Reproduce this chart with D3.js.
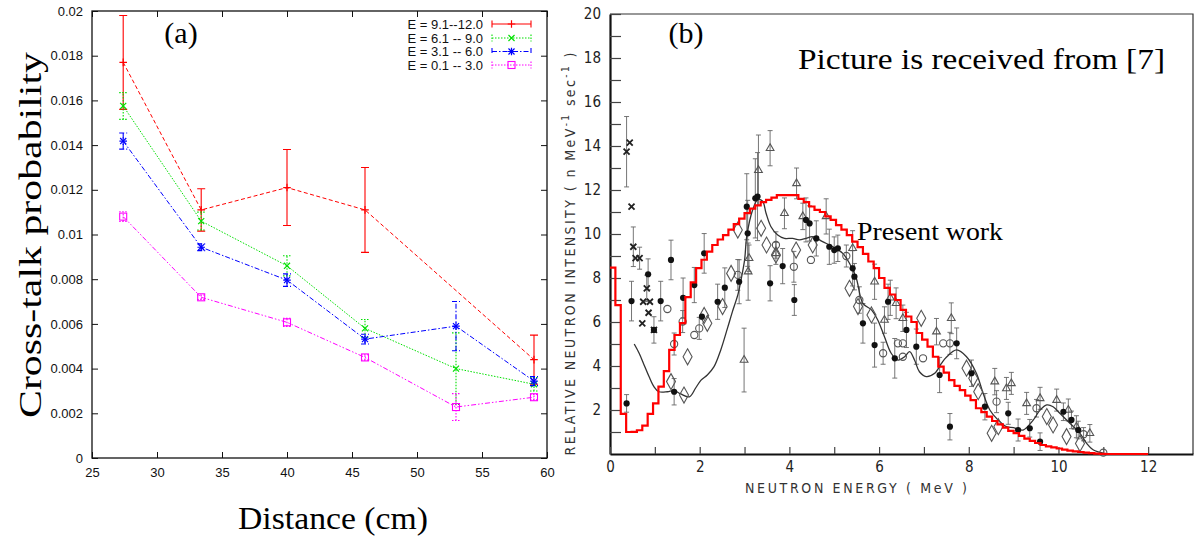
<!DOCTYPE html>
<html>
<head>
<meta charset="utf-8">
<script src="https://cdn.jsdelivr.net/npm/d3@7"></script>
<style>
  body { margin: 0; background: #fff; }
</style>
</head>
<body>
<div id="chart"></div>
<script>
// ---------- panel (a) data ----------
const distances = [27.4, 33.4, 40, 46, 53, 59];
const probHigh   = [0.0177, 0.0111, 0.0121, 0.0111, null, 0.0044];
const errHigh    = [0.0021, 0.00095, 0.0017, 0.0019, null, 0.0011];
const probMid    = [0.01575, 0.0106, 0.0086, 0.0058, 0.0040, 0.0033];
const errMid     = [0.0006, 0.0004, 0.00045, 0.0004, 0.0016, 0.0003];
const probLow    = [0.01418, 0.00943, 0.00796, 0.00532, 0.0059, 0.00344];
const errLow     = [0.00036, 0.00015, 0.00028, 0.00022, 0.0011, 0.0002];
const probLowest = [0.0108, 0.00719, 0.00607, 0.0045, 0.00228, 0.00272];
const errLowest  = [0.00022, 0.0001, 0.00018, 0.00012, 0.0006, 0.00012];
const legendLabels = ["E = 9.1--12.0", "E = 6.1 -- 9.0", "E = 3.1 -- 6.0", "E = 0.1 -- 3.0"];
const yTicksA = [0, 0.002, 0.004, 0.006, 0.008, 0.01, 0.012, 0.014, 0.016, 0.018, 0.02];
const xTicksA = [25, 30, 35, 40, 45, 50, 55, 60];

// ---------- panel (b) data ----------
// red histogram, 0.12 MeV bins from 0 to 12 MeV
const binWidth = 0.12;
const histCounts = [
  8.47, 6.77, 1.82, 1.0, 1.01, 1.08, 1.29, 1.82, 2.3, 3.06,
  3.77, 4.73, 5.41, 5.95, 7.13, 7.8, 8.45, 8.83, 9.2, 9.5,
  9.75, 9.95, 10.2, 10.45, 10.7, 10.95, 11.15, 11.3, 11.45, 11.55,
  11.65, 11.77, 11.77, 11.77, 11.77, 11.6, 11.45, 11.25, 11.1, 11.0,
  10.8, 10.64, 10.4, 10.2, 9.95, 9.65, 9.4, 9.1, 8.75, 8.45,
  8.0, 7.55, 7.25, 7.0, 6.55, 6.25, 6.0, 5.5, 5.2, 4.88,
  4.42, 3.97, 3.7, 3.36, 3.1, 2.9, 2.65, 2.45, 2.08, 1.9,
  1.7, 1.5, 1.35, 1.2, 1.05, 0.95, 0.82, 0.7, 0.6, 0.5,
  0.41, 0.35, 0.3, 0.25, 0.2, 0.15, 0.12, 0.09, 0.06, 0.04,
  0.02, 0.01, 0, 0, 0, 0, 0, 0, 0, 0
];

// solid curve [MeV, intensity]
const curvePts = [
  [0.54, 5.0], [0.65, 4.58], [0.76, 4.05], [0.87, 3.52], [0.98, 3.06], [1.09, 2.83],
  [1.28, 2.83], [1.43, 2.88], [1.58, 2.73], [1.77, 2.6], [1.91, 3.0], [2.03, 3.36],
  [2.17, 3.59], [2.32, 3.97], [2.47, 4.73], [2.62, 5.72], [2.73, 6.47], [2.85, 7.23],
  [2.92, 7.9], [3.0, 8.8], [3.05, 9.9], [3.18, 11.09], [3.29, 11.55], [3.4, 11.5],
  [3.48, 10.94], [3.59, 10.33], [3.74, 9.95], [3.89, 9.8], [4.07, 9.8], [4.22, 9.73],
  [4.37, 9.8], [4.52, 9.88], [4.74, 9.65], [4.97, 9.42], [5.19, 9.12], [5.34, 8.67],
  [5.49, 8.0], [5.64, 6.85], [5.83, 6.55], [5.97, 6.09], [6.12, 5.33], [6.27, 4.58],
  [6.42, 4.27], [6.57, 4.42], [6.68, 4.65], [6.79, 4.27], [6.9, 3.74], [7.05, 3.52],
  [7.24, 3.67], [7.39, 4.12], [7.5, 4.4], [7.73, 4.73], [7.95, 4.42], [8.17, 3.67],
  [8.32, 2.76], [8.47, 2.0], [8.65, 1.55], [8.84, 1.24], [9.0, 1.2], [9.21, 1.09],
  [9.44, 1.55], [9.59, 2.0], [9.74, 2.23], [9.88, 2.15], [10.03, 1.85], [10.26, 1.39],
  [10.48, 0.94], [10.63, 0.48], [10.78, 0.18], [11.0, 0.04]
];

// measured points [MeV, intensity, half error]
const filledPts = [
  [0.37, 2.3, 0.4], [0.48, 6.95, 0.9], [0.85, 8.17, 0.7], [0.98, 5.64, 0.6], [1.13, 6.95, 0.9],
  [1.36, 8.82, 0.9], [1.43, 2.83, 0.6], [1.63, 7.1, 0.9], [1.88, 7.68, 0.8], [2.05, 6.24, 0],
  [2.1, 9.12, 0.9], [2.4, 6.92, 0.8], [2.56, 7.56, 0.9], [2.88, 7.83, 1.0], [3.05, 11.24, 1.5],
  [3.07, 10.03, 1.5], [3.24, 11.62, 1.8], [3.29, 11.7, 2.0], [3.57, 7.76, 0.8], [3.85, 8.54, 0.8],
  [4.11, 7.0, 0.7], [4.37, 10.64, 1.0], [4.45, 10.48, 0.8], [4.6, 9.8, 0.8], [4.89, 9.42, 0.8],
  [5.0, 9.27, 0.6], [5.08, 9.35, 0.6], [5.41, 8.44, 0.8], [5.45, 8.06, 0.6], [5.64, 5.94, 0.9],
  [5.9, 4.95, 1.0], [6.2, 6.92, 0.8], [6.35, 4.35, 0.9], [6.61, 5.64, 0.8], [6.83, 4.88, 0.8],
  [7.35, 3.59, 0.8], [7.58, 1.24, 0.6], [7.73, 5.03, 0.7], [8.06, 3.67, 0.6], [8.36, 2.15, 0.6],
  [8.88, 1.85, 0.5], [9.1, 1.09, 0.5], [9.36, 1.17, 0.4], [9.59, 0.56, 0.4], [10.11, 1.92, 0.4],
  [10.29, 1.55, 0.4], [10.44, 1.09, 0.4]
];
const crossPts = [
  [0.37, 13.74, 1.6], [0.44, 14.15, 0], [0.48, 11.24, 0], [0.52, 9.42, 0.9], [0.57, 8.9, 0],
  [0.66, 8.9, 0.5], [0.74, 6.92, 0], [0.82, 7.53, 0.6], [0.86, 6.42, 0], [0.89, 6.92, 0],
  [0.72, 5.94, 0], [0.98, 5.64, 0]
];
const openCirclePts = [
  [1.28, 6.59, 0], [1.43, 5.0, 0.5], [1.62, 6.02, 0.5], [1.88, 5.41, 0], [1.99, 5.71, 0.5],
  [2.85, 8.14, 0.7], [3.7, 9.5, 0.6], [4.1, 8.51, 0.7], [4.48, 8.82, 0], [5.27, 9.0, 0.5],
  [5.56, 7.0, 0.6], [6.09, 4.58, 0.5], [6.42, 5.03, 0], [6.53, 5.03, 0], [6.53, 4.42, 0],
  [6.98, 4.35, 0], [7.43, 5.03, 0], [7.58, 5.03, 0.5], [8.62, 2.38, 0.5], [9.51, 2.08, 0.4],
  [10.56, 0.9, 0.3], [11.0, 0.06, 0]
];
const trianglePts = [
  [2.99, 4.27, 1.45], [3.08, 8.29, 1.3], [3.1, 8.9, 0.6], [3.31, 12.9, 1.6], [3.57, 13.9, 0.8],
  [3.7, 9.12, 0.5], [3.89, 10.94, 0.7], [4.16, 12.3, 0.7], [4.3, 10.8, 0.6], [4.82, 10.8, 0.8],
  [5.41, 9.35, 0.8], [5.9, 7.83, 0.8], [6.12, 6.09, 0.6], [6.25, 7.1, 0.8], [6.38, 6.85, 0.7],
  [6.53, 6.17, 0.6], [7.28, 5.56, 0.6], [7.61, 6.17, 0.7], [8.58, 3.29, 0.6], [8.84, 2.98, 0.5],
  [8.95, 3.21, 0.5], [9.29, 2.3, 0.5], [9.59, 2.53, 0.5], [9.96, 2.45, 0.5], [10.22, 2.0, 0.5],
  [10.4, 1.24, 0.5], [10.7, 0.94, 0.4]
];
const diamondPts = [
  [1.36, 3.29], [1.65, 2.68], [1.73, 4.42], [2.1, 6.3], [2.17, 5.94], [2.51, 6.7], [2.7, 8.21],
  [2.85, 10.18], [3.37, 10.26], [3.49, 9.5], [3.7, 9.05], [4.15, 9.27], [4.52, 9.5], [5.34, 7.53],
  [5.53, 6.7], [5.83, 6.32], [6.94, 6.17], [7.95, 3.9], [8.1, 3.44], [8.21, 2.83], [8.51, 0.94],
  [8.66, 1.24], [9.74, 1.7], [9.88, 1.32], [10.18, 0.79], [10.48, 0.48]
];

// ---------- svg ----------
const W = 1197, H = 541;
const svg = d3.select("#chart").append("svg")
  .attr("width", W)
  .attr("height", H)
  .style("background", "#fff");

// ======================= panel (a) =======================
const ax = d3.scaleLinear().domain([25, 60]).range([92, 547]);
const ay = d3.scaleLinear().domain([0, 0.02]).range([458, 11]);
const sansA = "'Liberation Sans', Arial, sans-serif";

const series = [
  { values: probHigh,   errors: errHigh,   color: "#ff0000", dash: "4,2.5",     errDash: null,        legendDash: null,        marker: "plus" },
  { values: probMid,    errors: errMid,    color: "#00e000", dash: "1.5,1.5",   errDash: "1.5,1.5",   legendDash: "1.5,1.5",   marker: "cross" },
  { values: probLow,    errors: errLow,    color: "#0000ff", dash: "5,2,1.5,2", errDash: "5,2,1.5,2", legendDash: "5,2,1.5,2", marker: "star" },
  { values: probLowest, errors: errLowest, color: "#ff00ff", dash: "5,2,1.5,2,1.5,2", errDash: "1.5,1.5", legendDash: "1.5,1.5", marker: "square" }
];

function drawMarker(g, type, x, y, color) {
  const s = 3.8;
  if (type === "plus" || type === "star") {
    g.append("path").attr("d", `M${x - s},${y}H${x + s}M${x},${y - s}V${y + s}`)
      .attr("stroke", color).attr("stroke-width", 1.2).attr("fill", "none");
  }
  if (type === "cross" || type === "star") {
    const c = s * 0.8;
    g.append("path").attr("d", `M${x - c},${y - c}L${x + c},${y + c}M${x - c},${y + c}L${x + c},${y - c}`)
      .attr("stroke", color).attr("stroke-width", 1.2).attr("fill", "none");
  }
  if (type === "square") {
    g.append("rect").attr("x", x - 3.5).attr("y", y - 3.5).attr("width", 7).attr("height", 7)
      .attr("stroke", color).attr("stroke-width", 1.1).attr("fill", "none");
  }
}

const gA = svg.append("g");

// axes with inward ticks on all four sides
gA.append("g")
  .attr("transform", `translate(${ax(25)},0)`)
  .call(d3.axisLeft(ay).tickValues(yTicksA).tickFormat(d3.format("~g"))
    .tickSizeInner(-6).tickSizeOuter(0).tickPadding(9))
  .call(g => g.select(".domain").remove())
  .call(g => g.selectAll("text").style("font-family", sansA).style("font-size", "13px").attr("fill", "#111"));

gA.append("g")
  .attr("transform", `translate(${ax(60)},0)`)
  .call(d3.axisRight(ay).tickValues(yTicksA).tickFormat("").tickSizeInner(-6).tickSizeOuter(0))
  .call(g => g.select(".domain").remove());

gA.append("g")
  .attr("transform", `translate(0,${ay(0)})`)
  .call(d3.axisBottom(ax).tickValues(xTicksA).tickFormat(d3.format("d"))
    .tickSizeInner(-6).tickSizeOuter(0).tickPadding(10))
  .call(g => g.select(".domain").remove())
  .call(g => g.selectAll("text").style("font-family", sansA).style("font-size", "13px").attr("fill", "#111"));

gA.append("g")
  .attr("transform", `translate(0,${ay(0.02)})`)
  .call(d3.axisTop(ax).tickValues(xTicksA).tickFormat("").tickSizeInner(-6).tickSizeOuter(0))
  .call(g => g.select(".domain").remove());

gA.selectAll(".tick line").attr("stroke", "#111");

gA.append("rect")
  .attr("x", ax(25)).attr("y", ay(0.02))
  .attr("width", ax(60) - ax(25)).attr("height", ay(0) - ay(0.02))
  .attr("fill", "none").attr("stroke", "#111").attr("stroke-width", 1.3);

// series lines, error bars, markers
const lineA = d3.line()
  .defined(d => d[1] != null)
  .x(d => ax(d[0]))
  .y(d => ay(d[1]));

series.forEach(s => {
  const pts = distances.map((d, i) => [d, s.values[i], s.errors[i]]).filter(d => d[1] != null);

  gA.append("path")
    .datum(pts)
    .attr("d", lineA)
    .attr("fill", "none")
    .attr("stroke", s.color)
    .attr("stroke-width", 1)
    .attr("stroke-dasharray", s.dash);

  const eg = gA.append("g")
    .attr("stroke", s.color)
    .attr("stroke-width", 1.1)
    .attr("fill", "none")
    .attr("stroke-dasharray", s.errDash);

  pts.forEach(p => {
    const x = ax(p[0]), y0 = ay(p[1] - p[2]), y1 = ay(p[1] + p[2]);
    eg.append("path").attr("d", `M${x},${y0}V${y1}M${x - 4},${y0}H${x + 4}M${x - 4},${y1}H${x + 4}`);
  });

  pts.forEach(p => drawMarker(gA, s.marker, ax(p[0]), ay(p[1]), s.color));
});

// legend
const legendRows = [24, 38, 51.5, 65];
series.forEach((s, i) => {
  const y = legendRows[i];
  gA.append("text")
    .attr("x", 483).attr("y", y).attr("dy", "0.35em")
    .attr("text-anchor", "end")
    .style("font-family", sansA).style("font-size", "13px").attr("fill", "#111")
    .text(legendLabels[i]);
  gA.append("path")
    .attr("d", `M492,${y}H531M492,${y - 3.5}V${y + 3.5}M531,${y - 3.5}V${y + 3.5}`)
    .attr("stroke", s.color).attr("stroke-width", 1.1).attr("fill", "none")
    .attr("stroke-dasharray", s.legendDash);
  drawMarker(gA, s.marker, 511.5, y, s.color);
});

// titles (a)
const serif = "'Liberation Serif', 'Times New Roman', serif";
gA.append("text")
  .attr("x", 181).attr("y", 43)
  .attr("text-anchor", "middle")
  .style("font-family", serif).style("font-size", "30px")
  .text("(a)");

gA.append("text")
  .attr("x", 333).attr("y", 529)
  .attr("text-anchor", "middle")
  .attr("textLength", 190).attr("lengthAdjust", "spacingAndGlyphs")
  .style("font-family", serif).style("font-size", "31px")
  .text("Distance (cm)");

gA.append("text")
  .attr("transform", "translate(41,235) rotate(-90)")
  .attr("text-anchor", "middle")
  .attr("textLength", 366).attr("lengthAdjust", "spacingAndGlyphs")
  .style("font-family", serif).style("font-size", "31px")
  .text("Cross-talk probability");

// ======================= panel (b) =======================
const bx = d3.scaleLinear().domain([0, 13]).range([610, 1193]);
const by = d3.scaleLinear().domain([0, 20]).range([454, 14]);
const sansB = "'DejaVu Sans Condensed', 'Liberation Sans Narrow', 'DejaVu Sans', sans-serif";
const gB = svg.append("g");

// frame (scan)
gB.append("path")
  .attr("d", `M${bx(0)},${by(20)}H${bx(13)}V${by(0)}`)
  .attr("fill", "none").attr("stroke", "#333").attr("stroke-width", 1.2);

gB.append("g")
  .attr("transform", `translate(${bx(0)},0)`)
  .call(d3.axisLeft(by).tickValues(d3.range(1, 21)).tickFormat(d => d % 2 === 0 ? d : "")
    .tickSizeInner(-11).tickSizeOuter(0).tickPadding(9))
  .call(g => g.select(".domain").attr("stroke-width", 2.2).attr("stroke", "#111"))
  .call(g => g.selectAll(".tick line").attr("stroke", "#444").attr("stroke-width", 1.2))
  .call(g => g.selectAll("text").style("font-family", sansB).style("font-size", "15px")
    .style("font-stretch", "condensed").attr("fill", "#222"));

gB.append("g")
  .attr("transform", `translate(0,${by(0)})`)
  .call(d3.axisBottom(bx).tickValues(d3.range(0, 13)).tickFormat(d => d % 2 === 0 ? d : "")
    .tickSizeInner(-7).tickSizeOuter(0).tickPadding(7))
  .call(g => g.select(".domain").attr("stroke-width", 2.2).attr("stroke", "#111"))
  .call(g => g.selectAll(".tick line").attr("stroke", "#444").attr("stroke-width", 1.2))
  .call(g => g.selectAll("text").style("font-family", sansB).style("font-size", "15px")
    .style("font-stretch", "condensed").attr("fill", "#222"));

// error bars
const errG = gB.append("g").attr("stroke", "#666").attr("stroke-width", 0.9).attr("fill", "none");
[filledPts, crossPts, openCirclePts, trianglePts].forEach(arr => {
  arr.filter(d => d[2] > 0).forEach(d => {
    const x = bx(d[0]), y0 = by(d[1] - d[2]), y1 = by(d[1] + d[2]);
    errG.append("path").attr("d", `M${x},${y0}V${y1}M${x - 2.5},${y0}H${x + 2.5}M${x - 2.5},${y1}H${x + 2.5}`);
  });
});

// solid curve
gB.append("path")
  .datum(curvePts)
  .attr("d", d3.line().x(d => bx(d[0])).y(d => by(d[1])).curve(d3.curveCatmullRom))
  .attr("fill", "none")
  .attr("stroke", "#333")
  .attr("stroke-width", 1.3);

// markers
gB.selectAll("path.diamond")
  .data(diamondPts)
  .join("path")
    .attr("class", "diamond")
    .attr("d", d => {
      const x = bx(d[0]), y = by(d[1]);
      return `M${x},${y - 8}L${x + 4.5},${y}L${x},${y + 8}L${x - 4.5},${y}Z`;
    })
    .attr("fill", "none").attr("stroke", "#555").attr("stroke-width", 1.1);

gB.selectAll("circle.open")
  .data(openCirclePts)
  .join("circle")
    .attr("class", "open")
    .attr("cx", d => bx(d[0])).attr("cy", d => by(d[1])).attr("r", 3.6)
    .attr("fill", "none").attr("stroke", "#555").attr("stroke-width", 1.1);

gB.selectAll("path.tri")
  .data(trianglePts)
  .join("path")
    .attr("class", "tri")
    .attr("transform", d => `translate(${bx(d[0])},${by(d[1])})`)
    .attr("d", d3.symbol(d3.symbolTriangle, 26))
    .attr("fill", "none").attr("stroke", "#555").attr("stroke-width", 1.1);

gB.selectAll("path.xmark")
  .data(crossPts)
  .join("path")
    .attr("class", "xmark")
    .attr("d", d => {
      const x = bx(d[0]), y = by(d[1]);
      return `M${x - 3},${y - 3}L${x + 3},${y + 3}M${x - 3},${y + 3}L${x + 3},${y - 3}`;
    })
    .attr("fill", "none").attr("stroke", "#222").attr("stroke-width", 1.8);

gB.selectAll("circle.filled")
  .data(filledPts)
  .join("circle")
    .attr("class", "filled")
    .attr("cx", d => bx(d[0])).attr("cy", d => by(d[1])).attr("r", 3.1)
    .attr("fill", "#111");

// red histogram on top
const edges = histCounts.map((v, i) => [i * binWidth, v]);
edges.push([histCounts.length * binWidth, histCounts[histCounts.length - 1]]);
gB.append("path")
  .datum(edges)
  .attr("d", d3.line().x(d => bx(d[0])).y(d => by(d[1])).curve(d3.curveStepAfter))
  .attr("fill", "none")
  .attr("stroke", "#ff0000")
  .attr("stroke-width", 2.2);

// axis titles (b)
const yTitle = gB.append("text")
  .attr("transform", "translate(575,254) rotate(-90)")
  .attr("text-anchor", "middle")
  .attr("textLength", 403).attr("lengthAdjust", "spacing")
  .style("font-family", sansB).style("font-size", "14px").style("font-stretch", "condensed")
  .attr("fill", "#333");
yTitle.append("tspan").text("RELATIVE NEUTRON INTENSITY ( n  MeV");
yTitle.append("tspan").attr("dy", -6).style("font-size", "10px").text("-1");
yTitle.append("tspan").attr("dy", 6).text(" sec");
yTitle.append("tspan").attr("dy", -6).style("font-size", "10px").text("-1");
yTitle.append("tspan").attr("dy", 6).text(" )");

gB.append("text")
  .attr("x", 856).attr("y", 493)
  .attr("text-anchor", "middle")
  .attr("textLength", 222).attr("lengthAdjust", "spacing")
  .style("font-family", sansB).style("font-size", "14px").style("font-stretch", "condensed")
  .attr("fill", "#333")
  .text("NEUTRON ENERGY ( MeV )");

// annotations (b)
gB.append("text")
  .attr("x", 686).attr("y", 43)
  .attr("text-anchor", "middle")
  .style("font-family", serif).style("font-size", "30px")
  .text("(b)");

gB.append("text")
  .attr("x", 798).attr("y", 69)
  .attr("textLength", 367).attr("lengthAdjust", "spacingAndGlyphs")
  .style("font-family", serif).style("font-size", "29px")
  .text("Picture is received from [7]");

gB.append("text")
  .attr("x", 857).attr("y", 240)
  .attr("textLength", 146).attr("lengthAdjust", "spacingAndGlyphs")
  .style("font-family", serif).style("font-size", "26px")
  .text("Present work");
</script>
</body>
</html>
